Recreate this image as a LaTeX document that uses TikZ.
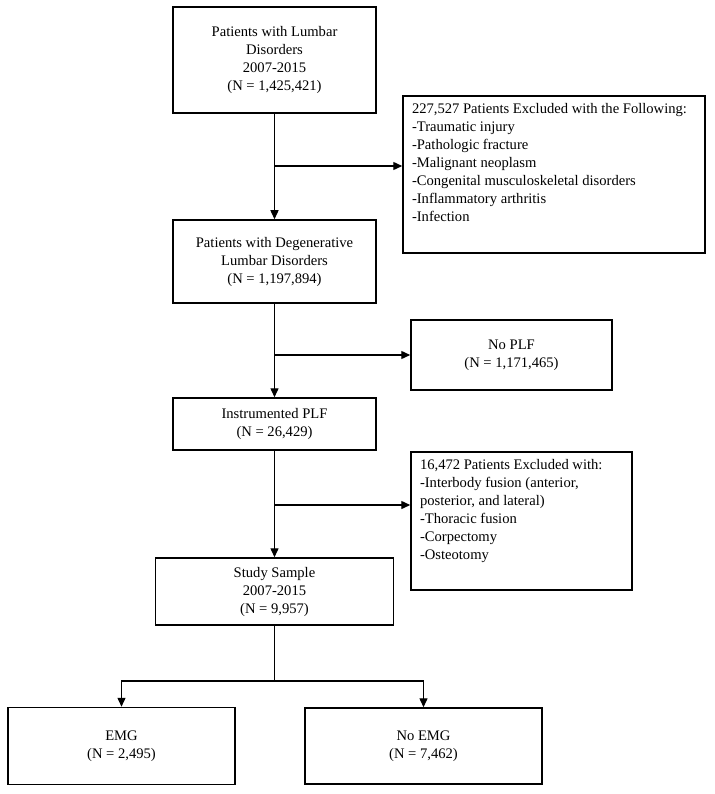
\documentclass[tikz,border=0pt]{standalone}
\usepackage{fontspec}
\setmainfont{Liberation Serif}
\usetikzlibrary{arrows.meta}
\begin{document}
\begin{tikzpicture}[x=1pt, y=-1pt,
  every node/.style={font=\fontsize{14.6}{18}\selectfont},
  box/.style={draw=black, line width=1.5pt, align=center, inner sep=0pt},
  listbox/.style={draw=black, line width=1.5pt, inner xsep=9pt, inner ysep=7pt},
  arr/.style={line width=1.4pt, -{Triangle[length=9pt, width=8pt]}}]
\useasboundingbox (0,0) rectangle (714,794);
% main column
\node [box, minimum width=203pt, minimum height=106pt] (lumbar) at (274.5,60)
  {Patients with Lumbar\\Disorders\\2007-2015\\(N = 1,425,421)};
\node [box, minimum width=203pt, minimum height=83pt] (degen) at (274.5,261.5)
  {Patients with Degenerative\\Lumbar Disorders\\(N = 1,197,894)};
\node [box, minimum width=203pt, minimum height=52pt] (plf) at (274.5,424)
  {Instrumented PLF\\(N = 26,429)};
\node [box, minimum width=238pt, minimum height=67pt] (study) at (274.5,591.5)
  {Study Sample\\2007-2015\\(N = 9,957)};
\node [box, minimum width=227pt, minimum height=77pt] (emg) at (121.5,746)
  {EMG\\(N = 2,495)};
\node [box, minimum width=237pt, minimum height=76pt] (noemg) at (423.5,746)
  {No EMG\\(N = 7,462)};
% side boxes
\node [listbox] (excl1) at (554,174.5)
  {\parbox[c][143pt][t]{284pt}{\raggedright
   227,527 Patients Excluded with the Following:\\
   -Traumatic injury\\
   -Pathologic fracture\\
   -Malignant neoplasm\\
   -Congenital musculoskeletal disorders\\
   -Inflammatory arthritis\\
   -Infection}};
\node [box, minimum width=201pt, minimum height=70pt] (noplf) at (511.5,355)
  {No PLF\\(N = 1,171,465)};
\node [listbox] (excl2) at (521.5,521)
  {\parbox[c][124pt][t]{203pt}{\raggedright
   16,472 Patients Excluded with:\\
   -Interbody fusion (anterior,\\
   posterior, and lateral)\\
   -Thoracic fusion\\
   -Corpectomy\\
   -Osteotomy}};
% connectors
\coordinate (b1) at (274.5,166);
\coordinate (b3) at (274.5,505);
\coordinate (split) at (274.5,681);
\draw [arr] (lumbar.south) -- (degen.north);
\draw [arr] (b1) -- (b1 -| excl1.west);
\draw [arr] (degen.south) -- (plf.north);
\draw [arr] (degen.south |- noplf.west) -- (noplf.west);
\draw [arr] (plf.south) -- (study.north);
\draw [arr] (b3) -- (b3 -| excl2.west);
\draw [line width=1.4pt] (study.south) -- (split);
\draw [arr] (split) -| (emg.north);
\draw [arr] (split) -| (noemg.north);
\end{tikzpicture}
\end{document}
